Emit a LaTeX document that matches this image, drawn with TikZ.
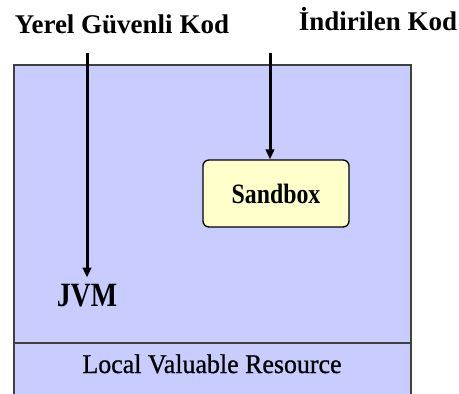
\documentclass[tikz,border=0pt]{standalone}
\usepackage{fontspec}
\setmainfont{Liberation Serif}
\newfontfamily\narrowfont[FakeStretch=0.82]{Liberation Serif}
\newfontfamily\semifont[FakeStretch=0.85]{Liberation Serif}
\newfontfamily\plainheavy[FakeBold=0.8,FakeStretch=0.96]{Liberation Serif}
\usetikzlibrary{arrows.meta}
\definecolor{javablue}{RGB}{200,204,255}
\definecolor{sandyellow}{RGB}{255,255,204}
\definecolor{edgegray}{RGB}{64,64,64}
\tikzset{
  title/.style={anchor=base, inner sep=0pt, font=\bfseries\fontsize{27}{30}\selectfont},
  flow/.style={line width=3pt, -{Triangle[length=10pt,width=8.5pt]}},
  region/.style={draw=edgegray, line width=1.4pt, fill=javablue},
  sandboxbox/.style={draw=black, line width=1.3pt, fill=sandyellow, rounded corners=6pt,
    minimum width=146pt, minimum height=67pt, inner sep=0pt,
    font=\semifont\bfseries\fontsize{28}{30}\selectfont}
}
\begin{document}
\begin{tikzpicture}[x=1pt,y=-1pt]
  \useasboundingbox (0,0) rectangle (459,394);
  % host machine area and resource band
  \draw[region] (14,65) rectangle (411,400);
  \draw[draw=edgegray, line width=1.4pt] (14,343) -- (411,343);

  % code sources
  \node[title] (local) at (122,33) {Yerel Güvenli Kod};
  \node[title] (remote) at (378,30) {İndirilen Kod};

  % components inside the machine
  \node[sandboxbox] (sandbox) at (276,193.5) {Sandbox};
  \node[anchor=base, inner sep=6pt, font=\narrowfont\bfseries\fontsize{34}{36}\selectfont]
    (jvm) at (87,306) {JVM};
  \node[anchor=base, inner sep=0pt, font=\plainheavy\fontsize{27}{29}\selectfont]
    (resource) at (212,373) {Local Valuable Resource};

  % code flow
  \coordinate (s1) at (87,53);
  \coordinate (s2) at (270,53);
  \draw[flow] (s1) -- (jvm.north);
  \draw[flow] (s2) -- (s2 |- sandbox.north);
\end{tikzpicture}
\end{document}
